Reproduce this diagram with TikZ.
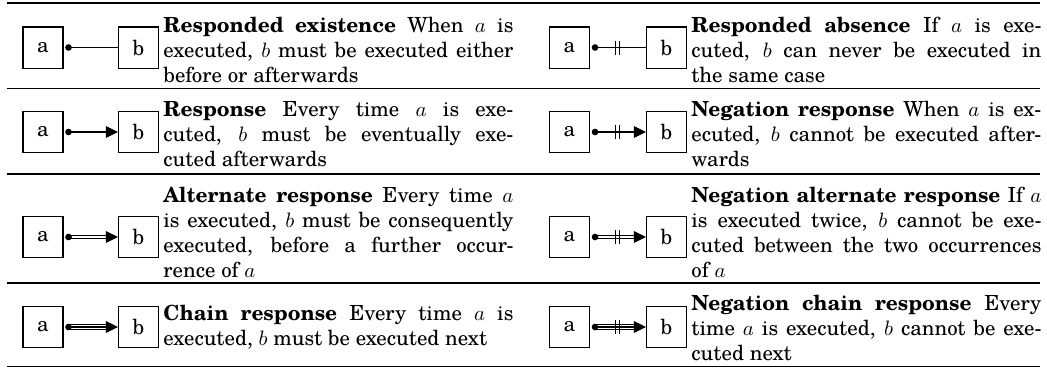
\documentclass[tikz,border=0pt]{standalone}
\usepackage{fontspec}
\setmainfont{texgyreschola}[Extension=.otf, UprightFont=*-regular, BoldFont=*-bold, ItalicFont=*-italic, BoldItalicFont=*-bolditalic]
\usetikzlibrary{arrows.meta,calc}
\newlength{\descw}
\setlength{\descw}{168pt}
\newcommand{\myjl}[1]{\hbox to \descw{\spaceskip=0.27em plus 1fil minus 0.06em #1}}
\newcommand{\mylast}[1]{\hbox to \descw{#1\hfil}}
\newcommand{\mydesc}[1]{\vbox{\hsize=\descw\baselineskip=12pt #1}}
\begin{document}
\begin{tikzpicture}[x=0.48pt,y=-0.48pt,
  blk/.style={draw, line width=0.5pt, minimum width=19.2pt, minimum height=19.7pt, inner sep=0pt, font=\fontsize{10}{12}\selectfont},
  desc/.style={anchor=west, inner sep=0pt, font=\fontsize{10}{12}\selectfont},
  conn/.style={line width=0.5pt},
  tip/.style={line width=0.5pt, -{Triangle[length=5.8pt,width=5.6pt]}},
  toprule/.style={line width=0.9pt},
  midrule/.style={line width=0.5pt}]
\useasboundingbox (0,0) rectangle (1047,368);
% rules
\draw[toprule] (7,3) -- (1040,3);
\draw[midrule] (7,88.5) -- (1040,88.5);
\draw[midrule] (7,174) -- (1040,174);
\draw[midrule] (7,283) -- (1040,283);
\draw[toprule] (7,366.5) -- (1040,366.5);
% boxes
\foreach \r/\y in {1/47.5,2/132,3/237,4/327}{
  \node[blk] (la\r) at (43,\y) {a};
  \node[blk] (lb\r) at (138.5,\y) {b};
  \node[blk] (ra\r) at (569.5,\y) {a};
  \node[blk] (rb\r) at (666.5,\y) {b};
  \path (la\r.east) ++(5,0) coordinate (ld\r);
  \path (ra\r.east) ++(5,0) coordinate (rd\r);
  \coordinate (rm\r) at ($(rd\r)!0.45!(rb\r.west)$);
}
% row 1
\draw[conn] (ld1) -- (lb1.west);
\draw[conn] (rd1) -- (rb1.west);
% row 2
\draw[tip] (ld2) -- (lb2.west);
\draw[tip] (rd2) -- (rb2.west);
% row 3 (double)
\draw[conn] ([yshift=0.85pt]ld3) -- ([yshift=0.85pt,xshift=-4pt]lb3.west);
\draw[conn] ([yshift=-0.85pt]ld3) -- ([yshift=-0.85pt,xshift=-4pt]lb3.west);
\draw[tip] ([xshift=-1pt]lb3.west) -- (lb3.west);
\draw[conn] ([yshift=0.85pt]rd3) -- ([yshift=0.85pt,xshift=-4pt]rb3.west);
\draw[conn] ([yshift=-0.85pt]rd3) -- ([yshift=-0.85pt,xshift=-4pt]rb3.west);
\draw[tip] ([xshift=-1pt]rb3.west) -- (rb3.west);
% row 4 (triple)
\draw[conn] ([yshift=1.05pt]ld4) -- ([yshift=1.05pt,xshift=-4pt]lb4.west);
\draw[conn] ([yshift=-1.05pt]ld4) -- ([yshift=-1.05pt,xshift=-4pt]lb4.west);
\draw[tip] (ld4) -- (lb4.west);
\draw[conn] ([yshift=1.05pt]rd4) -- ([yshift=1.05pt,xshift=-4pt]rb4.west);
\draw[conn] ([yshift=-1.05pt]rd4) -- ([yshift=-1.05pt,xshift=-4pt]rb4.west);
\draw[tip] (rd4) -- (rb4.west);
% bars and dots
\foreach \r in {1,2,3,4}{
  \draw[conn] ($(rm\r)+(-2,-7)$) -- ($(rm\r)+(-2,7)$);
  \draw[conn] ($(rm\r)+(2,-7)$) -- ($(rm\r)+(2,7)$);
  \fill (ld\r) circle (1.6pt);
  \fill (rd\r) circle (1.6pt);
}
% texts
\node[desc] (lt1) at (163,49.5) {\mydesc{\myjl{\textbf{Responded existence} When $a$ is}\myjl{executed, $b$ must be executed either}\mylast{before or afterwards}}};
\node[desc] (rt1) at (691,49.5) {\mydesc{\myjl{\textbf{Responded absence} If $a$ is exe-}\myjl{cuted, $b$ can never be executed in}\mylast{the same case}}};
\node[desc] (lt2) at (163,134) {\mydesc{\myjl{\textbf{Response} Every time $a$ is exe-}\myjl{cuted, $b$ must be eventually exe-}\mylast{cuted afterwards}}};
\node[desc] (rt2) at (691,134) {\mydesc{\myjl{\textbf{Negation response} When $a$ is ex-}\myjl{ecuted, $b$ cannot be executed after-}\mylast{wards}}};
\node[desc] (lt3) at (163,232) {\mydesc{\myjl{\textbf{Alternate response} Every time $a$}\myjl{is executed, $b$ must be consequently}\myjl{executed, before a further occur-}\mylast{rence of $a$}}};
\node[desc] (rt3) at (691,232) {\mydesc{\myjl{\textbf{Negation alternate response} If $a$}\myjl{is executed twice, $b$ cannot be exe-}\myjl{cuted between the two occurrences}\mylast{of $a$}}};
\node[desc] (lt4) at (163,327) {\mydesc{\myjl{\textbf{Chain response} Every time $a$ is}\mylast{executed, $b$ must be executed next}}};
\node[desc] (rt4) at (691,328) {\mydesc{\myjl{\textbf{Negation chain response} Every}\myjl{time $a$ is executed, $b$ cannot be exe-}\mylast{cuted next}}};
\end{tikzpicture}
\end{document}
